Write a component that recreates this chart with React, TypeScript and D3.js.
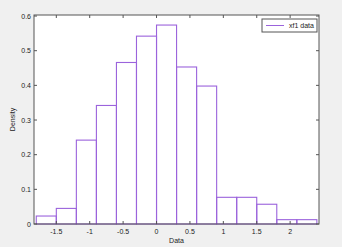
import React from "react";
import * as d3 from "d3";

const binEdges = [-1.8, -1.5, -1.2, -0.9, -0.6, -0.3, 0, 0.3, 0.6, 0.9, 1.2, 1.5, 1.8, 2.1, 2.4];
const densities = [0.023, 0.045, 0.242, 0.342, 0.466, 0.542, 0.574, 0.453, 0.398, 0.077, 0.077, 0.057, 0.0125, 0.0125];
const xTicks = [-1.5, -1, -0.5, 0, 0.5, 1, 1.5, 2];
const yTicks = [0, 0.1, 0.2, 0.3, 0.4, 0.5, 0.6];
const seriesName = "xf1 data";

export default function App() {
  const W = 342, H = 247;
  const left = 34, right = 319, top = 15, bottom = 224;
  const x = d3.scaleLinear().domain([-1.834, 2.432]).range([left, right]);
  const y = d3.scaleLinear().domain([0, 0.603]).range([bottom, top]);
  const axisColor = "#555";
  const barColor = "#9b63dc";
  const font = "Arial, 'Liberation Sans', sans-serif";
  const tl = 3;
  return (
    <svg width={W} height={H} style={{ position: "absolute", left: 0, top: 0 }}>
      <rect x={0} y={0} width={W} height={H} fill="#f0f0f0" />
      <rect x={left} y={top} width={right - left} height={bottom - top} fill="#fff" />
      {densities.map((d, i) => (
        <rect key={i} x={x(binEdges[i])} y={y(d)} width={x(binEdges[i + 1]) - x(binEdges[i])} height={y(0) - y(d)}
          fill="none" stroke={barColor} strokeWidth={1.1} />
      ))}
      <rect x={left} y={top} width={right - left} height={bottom - top} fill="none" stroke={axisColor} strokeWidth={1} />
      {xTicks.map((t) => (
        <g key={"x" + t}>
          <line x1={x(t)} x2={x(t)} y1={bottom} y2={bottom - tl} stroke={axisColor} />
          <line x1={x(t)} x2={x(t)} y1={top} y2={top + tl} stroke={axisColor} />
          <text x={x(t)} y={bottom + 10} fontSize={7} fontFamily={font} textAnchor="middle" fill="#222">{String(t)}</text>
        </g>
      ))}
      {yTicks.map((t) => (
        <g key={"y" + t}>
          <line x1={left} x2={left + tl} y1={y(t)} y2={y(t)} stroke={axisColor} />
          <line x1={right} x2={right - tl} y1={y(t)} y2={y(t)} stroke={axisColor} />
          <text x={left - 3} y={y(t) + 2.5} fontSize={7} fontFamily={font} textAnchor="end" fill="#222">{String(t)}</text>
        </g>
      ))}
      <text x={(left + right) / 2} y={bottom + 19} fontSize={7} fontFamily={font} textAnchor="middle" fill="#222">Data</text>
      <text transform={`translate(15, ${(top + bottom) / 2}) rotate(-90)`} fontSize={7} fontFamily={font} textAnchor="middle" fill="#222">Density</text>
      <rect x={262} y={19} width={55} height={13} fill="#fff" stroke={axisColor} strokeWidth={1} />
      <line x1={266} x2={284} y1={25.5} y2={25.5} stroke={barColor} strokeWidth={1} />
      <text x={289} y={28} fontSize={7} fontFamily={font} fill="#222">{seriesName}</text>
    </svg>
  );
}
